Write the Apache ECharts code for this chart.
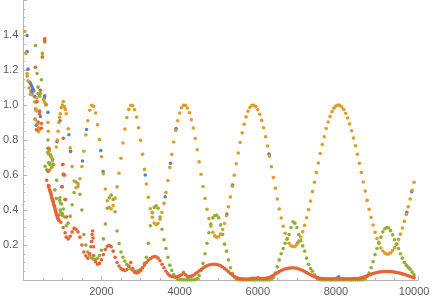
<!DOCTYPE html>
<html><head><meta charset="utf-8">
<script src="https://cdn.jsdelivr.net/npm/echarts@6/dist/echarts.min.js"></script>
<style>html,body{margin:0;padding:0;background:#fff}#c{width:436px;height:300px}</style>
</head><body><div id="c"></div>
<script>
// Regularly sampled part of the three smooth curves: x = 1100, 1150, ..., 10000
const xStart = 1100, xStep = 50;
const orangeY = [
 0.95,0.864,0.755,0.648,0.566,0.527,0.535,0.579,0.648,0.736,
 0.829,0.91,0.97,0.999,0.992,0.954,0.887,0.802,0.704,0.607,
 0.52,0.453,0.414,0.406,0.425,0.468,0.532,0.61,0.696,0.783,
 0.863,0.929,0.975,0.998,0.996,0.973,0.931,0.87,0.798,0.718,
 0.632,0.549,0.473,0.407,0.358,0.326,0.316,0.324,0.347,0.386,
 0.438,0.5,0.569,0.643,0.718,0.789,0.854,0.91,0.954,0.984,
 0.999,0.998,0.983,0.956,0.916,0.868,0.809,0.744,0.675,0.604,
 0.534,0.466,0.404,0.351,0.308,0.273,0.252,0.244,0.249,0.263,
 0.289,0.323,0.367,0.419,0.475,0.536,0.599,0.664,0.726,0.786,
 0.841,0.89,0.932,0.964,0.986,0.998,0.999,0.991,0.973,0.947,
 0.912,0.87,0.819,0.766,0.708,0.647,0.586,0.525,0.463,0.406,
 0.354,0.307,0.267,0.235,0.21,0.196,0.19,0.193,0.204,0.222,
 0.246,0.276,0.312,0.356,0.402,0.451,0.505,0.559,0.614,0.669,
 0.723,0.774,0.819,0.866,0.903,0.935,0.962,0.982,0.994,1.0,
 0.998,0.989,0.974,0.953,0.926,0.892,0.853,0.811,0.767,0.719,
 0.667,0.614,0.56,0.508,0.455,0.404,0.357,0.314,0.273,0.237,
 0.208,0.183,0.166,0.154,0.148,0.149,0.156,0.168,0.185,0.205,
 0.232,0.262,0.297,0.335,0.375,0.418,0.463,0.513,0.559
];
const greenY = [
 0.31,0.325,0.365,0.43,0.5,0.56,0.55,0.49,0.4,0.26,
 0.2,0.16,0.14,0.125,0.118,0.118,0.124,0.14,0.17,0.235,
 0.32,0.41,0.47,0.485,0.46,0.39,0.28,0.208,0.16,0.13,
 0.108,0.09,0.077,0.065,0.055,0.05,0.05,0.053,0.06,0.07,
 0.095,0.13,0.21,0.31,0.385,0.415,0.424,0.41,0.36,0.29,
 0.23,0.18,0.13,0.085,0.055,0.03,0.014,0.005,0.002,0.001,
 0.001,0.001,0.001,0.001,0.001,0.001,0.002,0.008,0.025,0.055,
 0.095,0.15,0.21,0.27,0.32,0.355,0.368,0.37,0.355,0.315,
 0.26,0.205,0.165,0.115,0.07,0.038,0.018,0.006,0.002,0.001,
 0.001,0.001,0.001,0.001,0.001,0.001,0.001,0.001,0.001,0.001,
 0.001,0.001,0.001,0.001,0.001,0.003,0.015,0.04,0.075,0.115,
 0.15,0.18,0.21,0.235,0.26,0.3,0.333,0.325,0.3,0.26,
 0.225,0.195,0.165,0.125,0.09,0.065,0.05,0.03,0.015,0.005,
 0.002,0.001,0.001,0.001,0.001,0.001,0.001,0.001,0.001,0.001,
 0.001,0.001,0.001,0.001,0.001,0.001,0.001,0.001,0.001,0.001,
 0.001,0.001,0.002,0.008,0.02,0.04,0.07,0.105,0.145,0.18,
 0.215,0.245,0.275,0.293,0.3,0.297,0.282,0.258,0.23,0.205,
 0.18,0.15,0.125,0.1,0.085,0.072,0.062,0.045,0.03
];
const redY = [
 0.245,0.235,0.25,0.275,0.295,0.29,0.275,0.245,0.2,0.16,
 0.138,0.125,0.15,0.22,0.14,0.105,0.09,0.095,0.115,0.145,
 0.175,0.193,0.199,0.19,0.165,0.13,0.1,0.08,0.065,0.058,
 0.055,0.06,0.08,0.1,0.065,0.045,0.04,0.045,0.055,0.07,
 0.085,0.1,0.113,0.122,0.13,0.134,0.133,0.125,0.11,0.09,
 0.07,0.05,0.035,0.025,0.02,0.018,0.017,0.02,0.025,0.03,
 0.042,0.03,0.02,0.02,0.022,0.027,0.035,0.043,0.052,0.06,
 0.068,0.075,0.081,0.086,0.089,0.09,0.09,0.089,0.086,0.081,
 0.074,0.066,0.057,0.047,0.037,0.028,0.02,0.014,0.01,0.008,
 0.007,0.006,0.006,0.006,0.007,0.01,0.01,0.01,0.012,0.008,
 0.008,0.009,0.01,0.012,0.016,0.021,0.027,0.034,0.041,0.048,
 0.054,0.059,0.063,0.066,0.068,0.069,0.07,0.069,0.067,0.063,
 0.059,0.054,0.048,0.042,0.036,0.03,0.024,0.019,0.015,0.012,
 0.01,0.009,0.008,0.007,0.007,0.007,0.007,0.007,0.008,0.008,
 0.007,0.007,0.007,0.007,0.007,0.007,0.007,0.008,0.008,0.009,
 0.01,0.012,0.016,0.02,0.025,0.029,0.033,0.037,0.04,0.043,
 0.045,0.047,0.048,0.049,0.049,0.049,0.048,0.047,0.045,0.043,
 0.041,0.038,0.035,0.032,0.028,0.024,0.02,0.016,0.013
];
// Scattered (irregular) points read individually, [x, y]
const blueExtra = [
 [97,1.397],[97,1.305],[122,1.205],[166,1.13],[190,1.12],[210,1.11],[230,1.1],[250,1.09],[268,1.08],
 [200,1.08],[215,1.065],[293,1.048],[535,1.04],[548,1.052],[318,0.976],[438,0.934],[300,0.92],[336,0.885],
 [632,0.958],[861,0.79],[938,0.91],[1167,0.83],[1210,0.735],[1516,0.68],[1618,0.86],[1982,0.74],[2043,0.62],
 [3121,0.6],[3631,0.476],[3766,0.667],[3911,0.866],[5210,0.377],[5355,0.542],[6288,0.72],[7027,0.214],
 [8071,0.018],[9814,0.387],[9941,0.504]
];
const orangeExtra = [
 [38,1.42],[64,1.295],[97,1.18],[100,1.165],[122,1.138],[148,1.097],[183,1.062],[234,1.057],[293,1.017],
 [318,0.98],[330,0.966],[310,0.916],[378,0.894],[400,0.87],[420,0.86],[390,0.847],[340,1.04],[360,1.02],
 [522,1.03],[548,1.015],[573,1.0],[632,0.9],[640,0.85],[650,0.75],[675,0.74],[700,0.715],[718,0.7],
 [745,0.68],[777,0.66],[642,0.67],[683,0.63],[845,0.76],[870,0.8],[890,0.85],[912,0.9],[930,0.93],
 [947,0.95],[973,0.985],[1000,1.0],[1024,1.02],[1050,0.99],[1075,0.975]
];
const greenExtra = [
 [310,1.34],[548,1.36],[489,1.295],[489,1.274],[352,1.18],[463,1.144],[378,1.102],[378,1.066],[438,1.066],
 [420,1.05],[590,1.003],[632,0.8],[657,0.753],[560,0.65],[600,0.63],[640,0.62],[625,0.73],[650,0.72],
 [700,0.71],[750,0.69],[660,0.67],[680,0.66],[730,0.645],[760,0.66],[810,0.515],[853,0.57],[845,0.466],
 [938,0.47],[930,0.455],[955,0.44],[981,0.434],[1024,0.406],[945,0.4],[960,0.385],[990,0.37],[1000,0.38],
 [1060,0.36]
];
const redExtra = [
 [548,1.378],[548,1.367],[489,1.274],[310,1.216],[438,1.084],[336,1.017],[420,0.965],[410,0.95],[336,0.858],
 [463,0.894],[463,0.867],[378,0.903],[632,0.753],[632,0.623],[599,0.57],[642,0.54],[650,0.53],[657,0.538],
 [675,0.515],[690,0.505],[700,0.5],[710,0.49],[720,0.48],[730,0.47],[740,0.465],[750,0.455],[760,0.45],
 [770,0.44],[780,0.43],[790,0.425],[800,0.417],[810,0.41],[820,0.4],[830,0.39],[845,0.38],[855,0.37],
 [870,0.36],[880,0.355],[890,0.35],[900,0.345],[912,0.34],[897,0.37],[960,0.33],[1020,0.3],[1070,0.27],
 [981,0.533],[1000,0.533],[1015,0.66],[1024,0.605],[1024,0.81],[1006,0.66],[1040,0.6],[1057,0.6],
 [1065,0.46],[1083,0.46],[1108,0.36],
 [1730,0.19],[1745,0.22],[1760,0.26],[1775,0.28],[1785,0.24],[1795,0.19]
];

const xTicks = [2000, 4000, 6000, 8000, 10000];
const yTicks = [0.2, 0.4, 0.6, 0.8, 1.0, 1.2, 1.4];

function sampled(ys) { return ys.map((y, i) => [xStart + i * xStep, y]); }

const axisCol = '#b4b4b4';
const labelStyle = { color: '#5a5a5a', fontSize: 11, fontFamily: 'Liberation Sans, Arial, sans-serif' };
const chart = echarts.init(document.getElementById('c'), null, { renderer: 'canvas' });
const mk = (name, color, data) => ({
  name, type: 'scatter', data, symbolSize: 3.6, silent: true,
  itemStyle: { color: color, opacity: 1 }
});
chart.setOption({
  animation: false,
  backgroundColor: '#ffffff',
  grid: { left: 21, right: 18, top: -15, bottom: 20, containLabel: false },
  xAxis: {
    type: 'value', min: 0, max: 10100, interval: 2000,
    axisLine: { show: true, onZero: false, lineStyle: { color: axisCol, width: 1 } },
    axisTick: { show: true, inside: true, length: 4, lineStyle: { color: axisCol } },
    minorTick: { show: true, splitNumber: 4, length: 2, lineStyle: { color: axisCol } },
    splitLine: { show: false },
    axisLabel: Object.assign({ margin: 6, showMaxLabel: true, showMinLabel: true, hideOverlap: false,
      formatter: v => xTicks.indexOf(v) >= 0 ? String(v) : '' }, labelStyle)
  },
  yAxis: {
    type: 'value', min: 0, max: 1.6, interval: 0.2,
    axisLine: { show: true, onZero: false, lineStyle: { color: axisCol, width: 1 } },
    axisTick: { show: true, inside: true, length: 4, lineStyle: { color: axisCol } },
    minorTick: { show: true, splitNumber: 4, length: 2, lineStyle: { color: axisCol } },
    splitLine: { show: false },
    axisLabel: Object.assign({ margin: 5, showMaxLabel: true, showMinLabel: true, hideOverlap: false,
      formatter: v => yTicks.some(t => Math.abs(t - v) < 1e-6) ? v.toFixed(1) : '' }, labelStyle)
  },
  series: [
    mk('blue', '#5E81B5', blueExtra),
    mk('orange', '#E19C24', orangeExtra.concat(sampled(orangeY))),
    mk('green', '#8FB032', greenExtra.concat(sampled(greenY))),
    mk('red', '#EB6235', redExtra.concat(sampled(redY)))
  ]
});
</script></body></html>
